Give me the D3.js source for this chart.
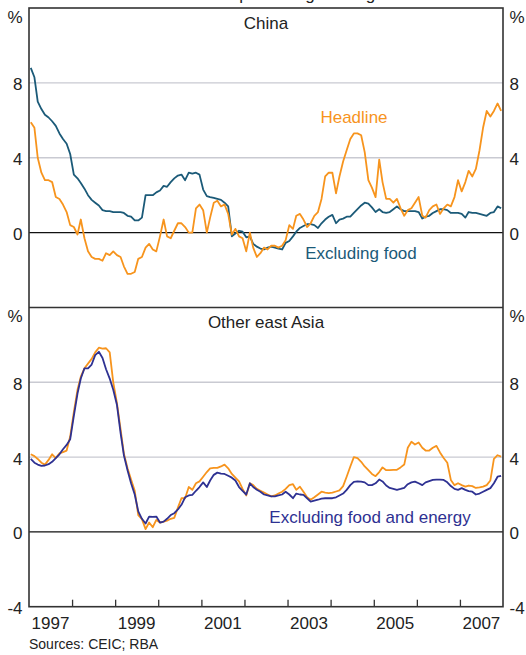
<!DOCTYPE html>
<html>
<head>
<meta charset="utf-8">
<script src="https://cdn.jsdelivr.net/npm/d3@7"></script>
<style>
  body { margin: 0; background: #fff; }
  svg { display: block; font-family: Arial, "Liberation Sans", sans-serif; }
</style>
</head>
<body>
<div id="mainDiv"></div>
<script>
// monthly, Jan 1997 .. Dec 2007, year-ended % change
var chinaHeadline = [
  5.9, 5.6, 4.0, 3.2, 2.8, 2.8, 2.7, 1.9, 1.8, 1.5, 1.1, 0.4,
  0.3, -0.1, 0.7, -0.3, -1.0, -1.3, -1.4, -1.4, -1.5, -1.1, -1.2, -1.0,
  -1.2, -1.3, -1.8, -2.2, -2.2, -2.1, -1.4, -1.3, -0.8, -0.6, -0.9, -1.0,
  -0.2, 0.7, -0.2, -0.3, 0.1, 0.5, 0.5, 0.3, 0.0, 0.0, 1.3, 1.5,
  1.2, 0.0, 0.8, 1.6, 1.7, 1.4, 1.5, 1.0, -0.1, 0.2, -0.2, -0.3,
  -1.0, 0.0, -0.8, -1.3, -1.1, -0.8, -0.9, -0.7, -0.7, -0.8, -0.7, -0.4,
  0.4, 0.2, 0.9, 1.0, 0.7, 0.3, 0.5, 0.9, 1.1, 1.8, 3.0, 3.2,
  3.2, 2.1, 3.0, 3.8, 4.4, 5.0, 5.3, 5.3, 5.2, 4.3, 2.8, 2.4,
  1.9, 3.9, 2.7, 1.8, 1.8, 1.6, 1.8, 1.3, 0.9, 1.2, 1.3, 1.6,
  1.9, 0.9, 0.8, 1.2, 1.4, 1.5, 1.0, 1.3, 1.5, 1.4, 1.9, 2.8,
  2.2, 2.7, 3.3, 3.0, 3.4, 4.4, 5.6, 6.5, 6.2, 6.5, 6.9, 6.5
];
var chinaExFood = [
  8.8, 8.3, 7.0, 6.6, 6.3, 6.15, 5.95, 5.7, 5.3, 5.0, 4.75, 4.2,
  3.1, 2.9, 2.65, 2.35, 2.0, 1.75, 1.6, 1.45, 1.2, 1.15, 1.15, 1.1,
  1.1, 1.1, 1.05, 0.9, 0.85, 0.65, 0.65, 0.8, 2.0, 2.0, 2.0, 2.15,
  2.25, 2.5, 2.45, 2.7, 2.9, 3.05, 3.1, 2.8, 3.2, 3.15, 3.2, 3.1,
  2.3, 1.95, 1.9, 1.85, 1.8, 1.75, 1.6, 1.4, -0.2, -0.05, 0.1, 0.05,
  -0.25, -0.2, -0.6, -0.75, -0.85, -0.9, -0.8, -0.75, -0.8, -0.85, -0.9, -0.55,
  -0.45, -0.2, 0.05, 0.25, 0.35, 0.45, 0.45, 0.4, 0.25, 0.5, 0.7, 0.85,
  0.95, 0.5, 0.7, 0.75, 0.85, 0.85, 1.05, 1.25, 1.45, 1.6, 1.55, 1.35,
  1.1, 1.25, 1.1, 1.05, 1.1, 1.25, 1.4, 1.25, 1.15, 1.15, 1.15, 1.15,
  1.1, 0.75, 0.85, 0.9, 1.05, 1.15, 1.25, 1.25, 1.2, 1.05, 1.05, 1.05,
  1.0, 0.8, 1.1, 1.05, 1.05, 1.0, 0.95, 0.9, 1.05, 1.1, 1.4, 1.3
];
var asiaHeadline = [
  4.15, 4.05, 3.9, 3.7, 3.6, 3.85, 4.15, 3.95, 4.2, 4.27, 4.35, 5.1,
  6.4, 7.6, 8.3, 8.75, 9.0, 9.25, 9.6, 9.85, 9.8, 9.82, 9.6, 8.0,
  6.9, 5.5, 4.2, 3.4, 2.8, 2.2, 0.9, 0.68, 0.15, 0.5, 0.25, 0.64,
  0.5, 0.55, 0.6, 0.7, 0.75, 1.3, 1.8, 1.8, 2.4, 2.25, 2.6, 2.7,
  2.95, 3.2, 3.4, 3.42, 3.42, 3.5, 3.6, 3.4, 3.1, 2.9, 2.7, 2.3,
  1.95, 2.6, 2.5, 2.3, 2.2, 2.1, 2.0, 1.9, 1.95, 2.05, 2.15, 2.3,
  2.5, 2.55, 2.25, 2.42, 2.15, 1.85, 1.72, 1.85, 2.0, 2.15, 2.1, 2.07,
  2.1, 2.16, 2.22, 2.45, 2.95, 3.5, 4.0, 3.95, 3.75, 3.5, 3.3, 3.1,
  2.98, 3.2, 3.45, 3.3, 3.3, 3.32, 3.32, 3.45, 3.6, 4.5, 4.82, 4.67,
  4.78, 4.5, 4.35, 4.35, 4.5, 4.6, 4.25, 3.95, 3.7, 2.78, 2.5, 2.6,
  2.5, 2.42, 2.48, 2.45, 2.35, 2.38, 2.42, 2.5, 2.75, 3.9, 4.1, 4.03
];
var asiaExFoodEnergy = [
  3.9, 3.7, 3.6, 3.53, 3.55, 3.62, 3.75, 3.95, 4.15, 4.42, 4.65, 4.95,
  6.2, 7.4, 8.2, 8.75, 8.75, 8.95, 9.45, 9.63, 9.3, 8.7, 8.2, 7.6,
  6.8, 5.3, 4.1, 3.3, 2.6, 2.0, 1.1, 0.7, 0.45, 0.82, 0.8, 0.82,
  0.5, 0.55, 0.7, 0.9, 1.0, 1.2, 1.45, 1.85, 1.95, 1.98, 2.2, 2.4,
  2.65, 2.4, 2.75, 3.05, 3.17, 3.12, 3.1, 3.0, 2.9, 2.75, 2.4, 2.2,
  2.0, 2.6, 2.4, 2.25, 2.15, 2.0, 1.95, 1.9, 1.9, 1.95, 2.0, 2.15,
  2.0, 1.8, 2.05, 2.0, 1.98, 1.8, 1.62, 1.67, 1.72, 1.78, 1.8, 1.8,
  1.8, 1.85, 1.95, 2.05, 2.25, 2.5, 2.68, 2.7, 2.69, 2.65, 2.5, 2.5,
  2.6, 2.8, 2.7, 2.48, 2.35, 2.3, 2.25, 2.3, 2.36, 2.55, 2.65, 2.69,
  2.6, 2.5, 2.65, 2.72, 2.78, 2.8, 2.8, 2.78, 2.65, 2.45, 2.3, 2.25,
  2.34, 2.25, 2.18, 2.15, 2.0, 2.05, 2.15, 2.25, 2.34, 2.6, 2.95, 3.0
];
var yTicks = [8, 4, 0, -4];
var yearLabels = [1997, 1999, 2001, 2003, 2005, 2007];

var W = 526, H = 655;
var plotLeft = 29, plotRight = 503, plotTop = 8, plotMid = 307.5, plotBottom = 606.7;
var orange = "#f7941d", teal = "#1b5a78", navy = "#2e3192", ink = "#222";

var svg = d3.select("#mainDiv").append("svg")
  .attr("width", W)
  .attr("height", H);

var months = d3.timeMonth.range(new Date(1997, 0, 1), new Date(2008, 0, 1));

var x = d3.scaleTime()
  .domain([new Date(1997, 0, 1), new Date(2008, 0, 1)])
  .range([plotLeft, plotRight]);

function midMonth(i) { return d3.timeDay.offset(months[i], 15); }

// cut-off title at the very top
svg.append("text")
  .attr("x", 266).attr("y", -0.5)
  .attr("text-anchor", "middle")
  .attr("font-size", "17px")
  .attr("fill", ink)
  .text("Year-ended percentage change");

function drawPanel(y0, y1, title, titleY, series, showBottomTick) {
  var y = d3.scaleLinear().domain([-4, 12]).range([y1, y0]);

  // grid lines
  svg.append("g").selectAll("line")
    .data([8, 4])
    .join("line")
    .attr("x1", plotLeft).attr("x2", plotRight)
    .attr("y1", d => y(d)).attr("y2", d => y(d))
    .attr("stroke", "#c9cad2")
    .attr("stroke-width", 1.4);

  svg.append("line")
    .attr("x1", plotLeft).attr("x2", plotRight)
    .attr("y1", y(0)).attr("y2", y(0))
    .attr("stroke", "#111")
    .attr("stroke-width", 1.4);

  // series
  series.forEach(function(s) {
    var line = d3.line()
      .x((d, i) => x(midMonth(i)))
      .y(d => y(d));
    svg.append("path")
      .datum(s.values)
      .attr("d", line)
      .attr("fill", "none")
      .attr("stroke", s.color)
      .attr("stroke-width", 1.8)
      .attr("stroke-linejoin", "round");
  });

  // tick labels, both sides
  var labs = showBottomTick ? yTicks : yTicks.slice(0, 3);
  svg.append("g").selectAll("text")
    .data(labs)
    .join("text")
    .attr("x", 22.5)
    .attr("y", d => y(d) + 7.5)
    .attr("text-anchor", "end")
    .attr("font-size", "17px")
    .attr("fill", ink)
    .text(d => d);
  svg.append("g").selectAll("text")
    .data(labs)
    .join("text")
    .attr("x", 509.5)
    .attr("y", d => y(d) + 7.5)
    .attr("text-anchor", "start")
    .attr("font-size", "17px")
    .attr("fill", ink)
    .text(d => d);

  // % signs
  svg.append("text")
    .attr("x", 22.5).attr("y", y0 + 14.5)
    .attr("text-anchor", "end")
    .attr("font-size", "17px").attr("fill", ink)
    .text("%");
  svg.append("text")
    .attr("x", 509.5).attr("y", y0 + 14.5)
    .attr("text-anchor", "start")
    .attr("font-size", "17px").attr("fill", ink)
    .text("%");

  svg.append("text")
    .attr("x", 266).attr("y", titleY)
    .attr("text-anchor", "middle")
    .attr("font-size", "17px").attr("fill", ink)
    .text(title);

  return y;
}

drawPanel(plotTop, plotMid, "China", 29.3, [
  { values: chinaExFood, color: teal },
  { values: chinaHeadline, color: orange }
], false);

drawPanel(plotMid, plotBottom, "Other east Asia", 328.3, [
  { values: asiaHeadline, color: orange },
  { values: asiaExFoodEnergy, color: navy }
], true);

// series labels
svg.append("text")
  .attr("x", 354).attr("y", 123.3)
  .attr("text-anchor", "middle")
  .attr("font-size", "17px").attr("fill", orange)
  .text("Headline");
svg.append("text")
  .attr("x", 361).attr("y", 259)
  .attr("text-anchor", "middle")
  .attr("font-size", "17px").attr("fill", teal)
  .text("Excluding food");
svg.append("text")
  .attr("x", 370).attr("y", 523)
  .attr("text-anchor", "middle")
  .attr("font-size", "17px").attr("fill", navy)
  .text("Excluding food and energy");

// x axis: ticks at year boundaries pointing inward
var xAxis = d3.axisBottom(x)
  .tickValues(d3.timeYear.range(new Date(1998, 0, 1), new Date(2008, 0, 1)))
  .tickSize(-7)
  .tickFormat("");
var gx = svg.append("g")
  .attr("transform", "translate(0," + plotBottom + ")")
  .call(xAxis);
gx.select(".domain").remove();
gx.selectAll(".tick line").attr("stroke", "#333").attr("stroke-width", 1.3);

svg.append("g").selectAll("text")
  .data(yearLabels)
  .join("text")
  .attr("x", d => x(new Date(d, 6, 2)))
  .attr("y", 628.5)
  .attr("text-anchor", "middle")
  .attr("font-size", "17px")
  .attr("fill", ink)
  .text(d => d);

// frame and divider
svg.append("rect")
  .attr("x", plotLeft).attr("y", plotTop)
  .attr("width", plotRight - plotLeft).attr("height", plotBottom - plotTop)
  .attr("fill", "none")
  .attr("stroke", "#333")
  .attr("stroke-width", 1.6);
svg.append("line")
  .attr("x1", plotLeft).attr("x2", plotRight)
  .attr("y1", plotMid).attr("y2", plotMid)
  .attr("stroke", "#333")
  .attr("stroke-width", 1.6);

svg.append("text")
  .attr("x", 29).attr("y", 649)
  .attr("font-size", "14px").attr("fill", ink)
  .text("Sources: CEIC; RBA");
</script>
</body>
</html>
